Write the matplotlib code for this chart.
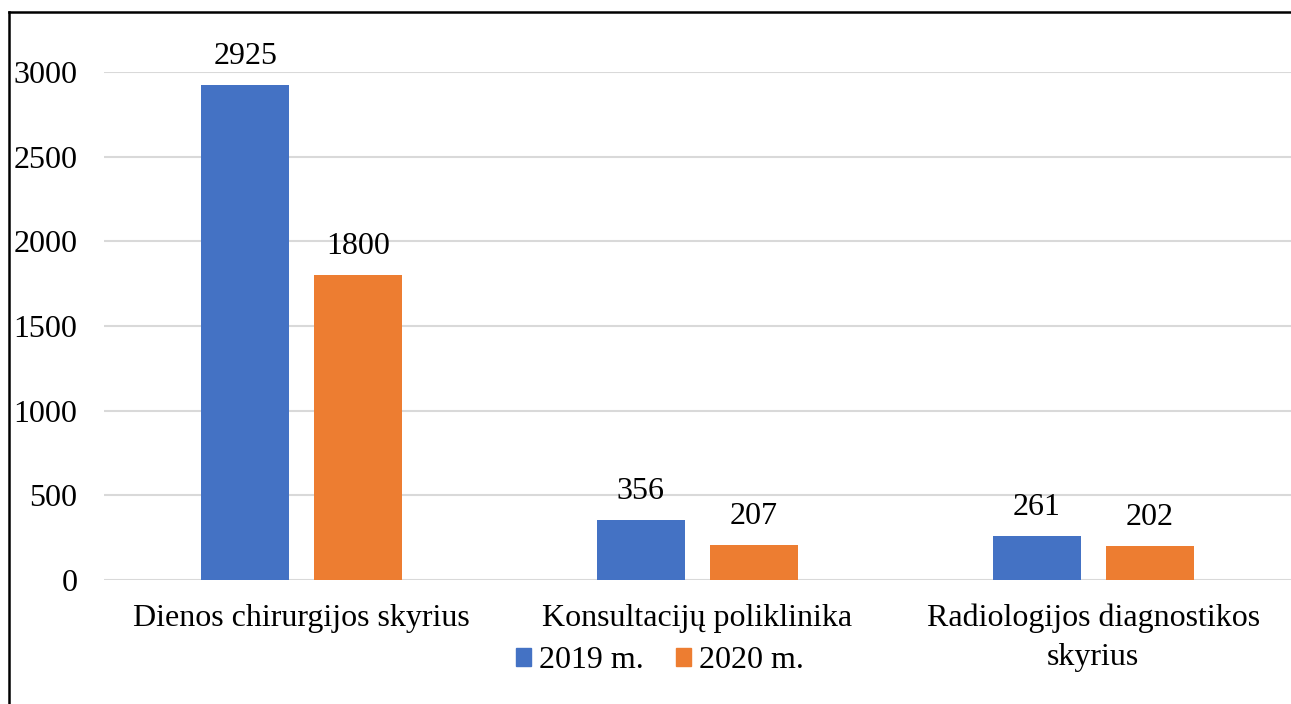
import matplotlib.pyplot as plt
import numpy as np
from matplotlib.lines import Line2D
from matplotlib.patches import Patch

categories = ['Dienos chirurgijos skyrius', 'Konsultacijų poliklinika',
              'Radiologijos diagnostikos\nskyrius']
values_2019 = [2925, 356, 261]
values_2020 = [1800, 207, 202]
series_names = ['2019 m.', '2020 m.']
colors = ['#4472C4', '#ED7D31']
yticks = [0, 500, 1000, 1500, 2000, 2500, 3000]

plt.rcParams['font.family'] = ['Liberation Serif', 'DejaVu Serif']

W, H = 1291, 704
fig = plt.figure(figsize=(W / 100, H / 100), dpi=100)
ax = fig.add_axes([104 / W, 1 - 580 / H, (W - 104) / W, (580 - 72) / H])

fs = 23
x = np.arange(len(categories))
width = 0.222
offset = 0.143
b1 = ax.bar(x - offset, values_2019, width, color=colors[0], zorder=3)
b2 = ax.bar(x + offset, values_2020, width, color=colors[1], zorder=3)
for bars in (b1, b2):
    ax.bar_label(bars, padding=10, fontsize=fs, clip_on=False)

ax.set_xlim(-0.5, 2.5)
ax.set_ylim(0, 3000)
ax.set_yticks(yticks)
ax.set_xticks(x)
ax.set_xticklabels(categories, fontsize=fs, linespacing=1.45)
ax.tick_params(axis='y', labelsize=fs, length=0, pad=19)
ax.tick_params(axis='x', length=0, pad=17)
ax.grid(axis='y', color='#d9d9d9', linewidth=1.5, zorder=0)
for s in ax.spines.values():
    s.set_visible(False)

handles = [Patch(color=c) for c in colors]
fig.legend(handles, series_names, loc='center', bbox_to_anchor=(660 / W, 1 - 661 / H),
           ncol=2, frameon=False, fontsize=fs, handlelength=0.47, handleheight=0.47,
           handletextpad=0.25, columnspacing=1.0)

# outer border (left and top visible)
fig.add_artist(Line2D([9 / W, 9 / W], [0, 1 - 12 / H], color='black', lw=1.8,
                      transform=fig.transFigure))
fig.add_artist(Line2D([9 / W, 1], [1 - 12 / H, 1 - 12 / H], color='black', lw=1.8,
                      transform=fig.transFigure))

fig.savefig('out.png', dpi=100)
